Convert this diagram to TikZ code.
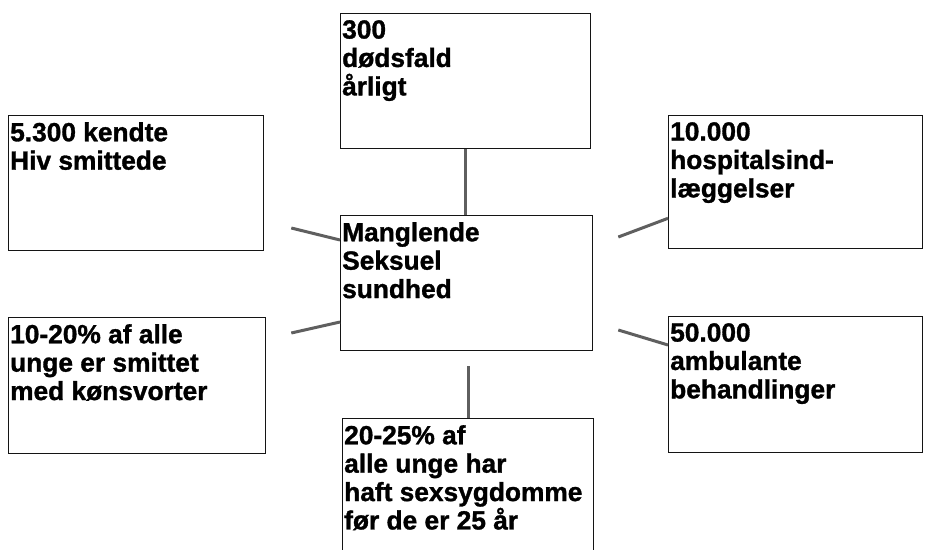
\documentclass[tikz,border=0pt]{standalone}
\usepackage{fontspec}
\setmainfont[BoldFeatures={FakeBold=1.2}]{Liberation Sans}
\usetikzlibrary{calc}
\definecolor{boxcol}{RGB}{20,20,20}
\definecolor{linkcol}{RGB}{95,95,95}

\begin{document}
\begin{tikzpicture}[x=1pt, y=-1pt]

	% --- Parameters ---
	\def\boxW{252}
	\def\boxH{135}

	\tikzset{
		box/.style={draw=boxcol, line width=1.3pt, rectangle, inner sep=0pt,
				minimum width=\boxW pt, minimum height=\boxH pt, anchor=north west},
		boxtext/.style={anchor=north west, inner sep=2pt, yshift=-5pt, align=left,
				font=\fontsize{26.3}{28.4}\selectfont\bfseries},
		link/.style={linkcol, line width=3pt}
	}

	\useasboundingbox (0,0) rectangle (936,549);

	% =============================================
	%  BOXES
	% =============================================

	\node[box] (core) at (340,215) {};
	\node[boxtext] (coreT) at (core.north west) {Manglende\\Seksuel\\sundhed};

	\node[box, minimum width=250pt] (dead) at (340,13) {};
	\node[boxtext] (deadT) at (dead.north west) {300\\dødsfald\\årligt};

	\node[box, minimum width=255pt] (hiv) at (8,115) {};
	\node[boxtext] (hivT) at (hiv.north west) {5.300 kendte\\Hiv smittede};

	\node[box, minimum width=254pt, minimum height=133pt] (hosp) at (668,115) {};
	\node[boxtext] (hospT) at (hosp.north west) {10.000\\hospitalsind-\\læggelser};

	\node[box, minimum width=257pt, minimum height=136pt] (kons) at (8,317) {};
	\node[boxtext] (konsT) at (kons.north west) {10-20\% af alle\\unge er smittet\\med kønsvorter};

	\node[box, minimum width=254pt, minimum height=136pt] (amb) at (668,316) {};
	\node[boxtext] (ambT) at (amb.north west) {50.000\\ambulante\\behandlinger};

	\node[box, minimum width=251pt, minimum height=150pt] (sexsyg) at (342,418) {};
	\node[boxtext] (sexsygT) at (sexsyg.north west)
	{20-25\% af\\alle unge har\\haft sexsygdomme\\før de er 25 år};

	% =============================================
	%  CONNECTORS
	% =============================================

	% free ends, short of the outer boxes
	\coordinate (hivEnd) at ($(hiv.north east)+(27,113)$);
	\coordinate (konsEnd) at ($(kons.north east)+(25,16)$);
	\coordinate (hospEnd) at ($(core.north east)+(25,22)$);
	\coordinate (ambEnd) at ($(core.north east)+(25,115)$);

	\draw[link] (dead.south) -- (dead.south |- core.north);
	\draw[link, shorten <=15pt] (sexsyg.north |- core.south) -- (sexsyg.north);

	\draw[link] ($(core.north west)+(0,25)$) -- (hivEnd);
	\draw[link] ($(core.north west)+(0,107)$) -- (konsEnd);
	\draw[link] (hospEnd) -- ($(hosp.south west)+(0,-31)$);
	\draw[link] (ambEnd) -- ($(amb.north west)+(0,29)$);

\end{tikzpicture}
\end{document}
